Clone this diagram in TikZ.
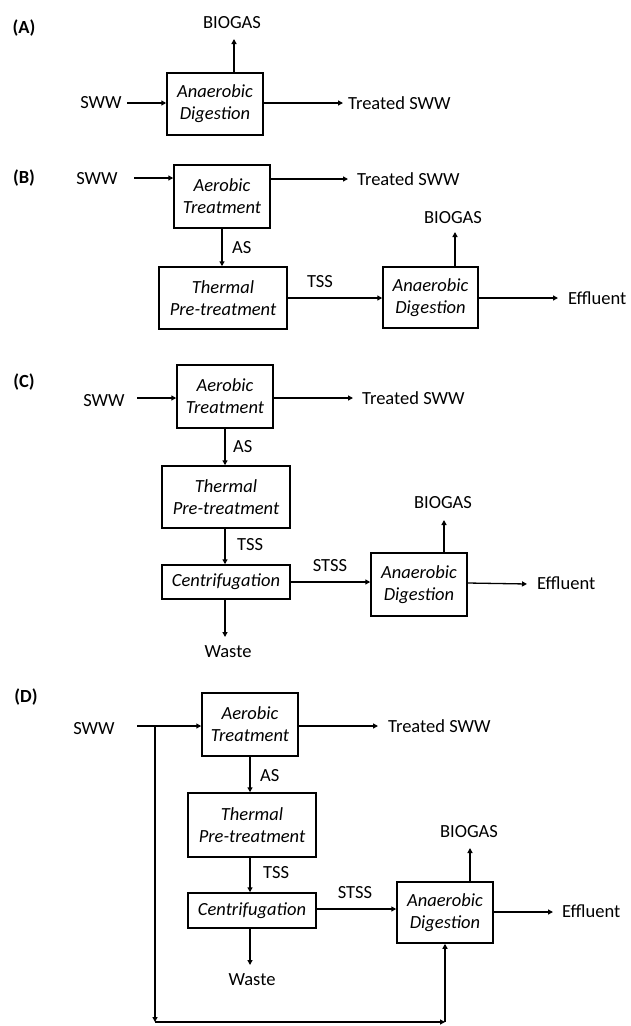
\documentclass[tikz,border=0pt]{standalone}
\usepackage{fontspec}
\setmainfont{Carlito}
\usetikzlibrary{arrows.meta}
\begin{document}
\begin{tikzpicture}[x=1pt,y=-1pt,
  every node/.style={font=\fontsize{18.5}{22}\selectfont, inner sep=0pt},
  proc/.style={draw, line width=1.5pt, align=center, font=\fontsize{18.5}{22}\selectfont\itshape},
  arr/.style={line width=1.3pt, -{Triangle[length=5pt,width=5pt]}},
  lbl/.style={font=\fontsize{18.5}{22}\selectfont\bfseries}]
\useasboundingbox (0,0) rectangle (630,1026);

% ---------- (A) ----------
\node[lbl] (labA) at (24,28) {(A)};
\node[proc, minimum width=96pt, minimum height=62pt] (adA) at (215,104) {Anaerobic\\Digestion};
\node (swwA) at (101,103) {SWW};
\coordinate (swwAe) at (127,103);
\draw[arr] (swwAe) -- (adA.west |- swwAe);
\node[anchor=west] (trA) at (348,103) {Treated SWW};
\coordinate (trAe) at (343,103);
\draw[arr] (adA.east |- trAe) -- (trAe);
\node (bgA) at (232,23) {BIOGAS};
\coordinate (bgAe) at (234,39);
\draw[arr] (adA.north -| bgAe) -- (bgAe);

% ---------- (B) ----------
\node[lbl] (labB) at (24,178) {(B)};
\node[proc, minimum width=96pt, minimum height=63pt] (aerB) at (222,196.5) {Aerobic\\Treatment};
\node (swwB) at (97,179) {SWW};
\coordinate (swwBe) at (134,178);
\draw[arr] (swwBe) -- (aerB.west |- swwBe);
\coordinate (trBe) at (348,179);
\node[anchor=west] (trB) at (357,179) {Treated SWW};
\draw[arr] (aerB.east |- trBe) -- (trBe);
\node[proc, minimum width=128pt, minimum height=62pt] (thB) at (223,298) {Thermal\\Pre-treatment};
\draw[arr] (aerB.south) -- (thB.north -| aerB.south);
\node[anchor=west] (asB) at (232,248) {AS};
\node[proc, minimum width=95pt, minimum height=61pt] (adB) at (430.5,297.5) {Anaerobic\\Digestion};
\draw[arr] (thB.east) -- (adB.west |- thB.east);
\node (tssB) at (320,282) {TSS};
\node (bgB) at (453,218) {BIOGAS};
\coordinate (bgBe) at (455,232);
\draw[arr] (adB.north -| bgBe) -- (bgBe);
\coordinate (efBe) at (558,298);
\draw[arr] (adB.east |- efBe) -- (efBe);
\node[anchor=west] (efB) at (568,298) {Effluent};

% ---------- (C) ----------
\node[lbl] (labC) at (24,382) {(C)};
\node[proc, minimum width=96pt, minimum height=63pt] (aerC) at (225,396.5) {Aerobic\\Treatment};
\node (swwC) at (104,401) {SWW};
\coordinate (swwCe) at (137,398);
\draw[arr] (swwCe) -- (aerC.west |- swwCe);
\coordinate (trCe) at (353,398);
\node[anchor=west] (trC) at (362,398) {Treated SWW};
\draw[arr] (aerC.east |- trCe) -- (trCe);
\node[proc, minimum width=128pt, minimum height=62pt] (thC) at (226,497) {Thermal\\Pre-treatment};
\draw[arr] (aerC.south) -- (thC.north -| aerC.south);
\node[anchor=west] (asC) at (233,447) {AS};
\node[proc, minimum width=128pt, minimum height=34pt] (ceC) at (226,582) {Centrifugation};
\draw[arr] (thC.south -| aerC.south) -- (ceC.north -| aerC.south);
\node[anchor=west] (tssC) at (237,545) {TSS};
\coordinate (waCe) at (225,637);
\draw[arr] (ceC.south -| waCe) -- (waCe);
\node (waC) at (228,652) {Waste};
\node[proc, minimum width=96pt, minimum height=63pt] (adC) at (419,584.5) {Anaerobic\\Digestion};
\draw[arr] (ceC.east) -- (adC.west |- ceC.east);
\node (stC) at (330,566) {STSS};
\node (bgC) at (443,503) {BIOGAS};
\coordinate (bgCe) at (444,520);
\draw[arr] (adC.north -| bgCe) -- (bgCe);
\coordinate (efCe) at (527,584);
\draw[arr] (adC.east |- 0,583) -- (efCe);
\node[anchor=west] (efC) at (537,583) {Effluent};

% ---------- (D) ----------
\node[lbl] (labD) at (26,697) {(D)};
\node[proc, minimum width=96pt, minimum height=63pt] (aerD) at (250,724.5) {Aerobic\\Treatment};
\node (swwD) at (94,729) {SWW};
\coordinate (swwDe) at (137,726);
\draw[arr] (swwDe) -- (aerD.west |- swwDe);
\coordinate (trDe) at (378,726);
\node[anchor=west] (trD) at (388,726) {Treated SWW};
\draw[arr] (aerD.east |- trDe) -- (trDe);
\node[proc, minimum width=128pt, minimum height=64pt] (thD) at (252,825) {Thermal\\Pre-treatment};
\draw[arr] (aerD.south) -- (thD.north -| aerD.south);
\node[anchor=west] (asD) at (260,776) {AS};
\node[proc, minimum width=128pt, minimum height=35pt] (ceD) at (252,910.5) {Centrifugation};
\draw[arr] (thD.south -| aerD.south) -- (ceD.north -| aerD.south);
\node[anchor=west] (tssD) at (263,873) {TSS};
\coordinate (waDe) at (250,965);
\draw[arr] (ceD.south -| waDe) -- (waDe);
\node (waD) at (252,980) {Waste};
\node[proc, minimum width=96pt, minimum height=61pt] (adD) at (445,912.5) {Anaerobic\\Digestion};
\draw[arr] (ceD.east |- 0,909) -- (adD.west |- 0,909);
\node (stD) at (355,893) {STSS};
\node (bgD) at (469,832) {BIOGAS};
\coordinate (bgDe) at (470,848);
\draw[arr] (adD.north -| bgDe) -- (bgDe);
\coordinate (efDe) at (553,912);
\draw[arr] (adD.east |- efDe) -- (efDe);
\node[anchor=west] (efD) at (562,911) {Effluent};
% bypass
\coordinate (byA) at (155,726);
\coordinate (byB) at (155,1022);
\coordinate (byC) at (445,1022);
\draw[arr] (byA) -- (byB);
\draw[arr] (byB) -- (byC);
\draw[arr] (byC) -- (adD.south);
\end{tikzpicture}
\end{document}
